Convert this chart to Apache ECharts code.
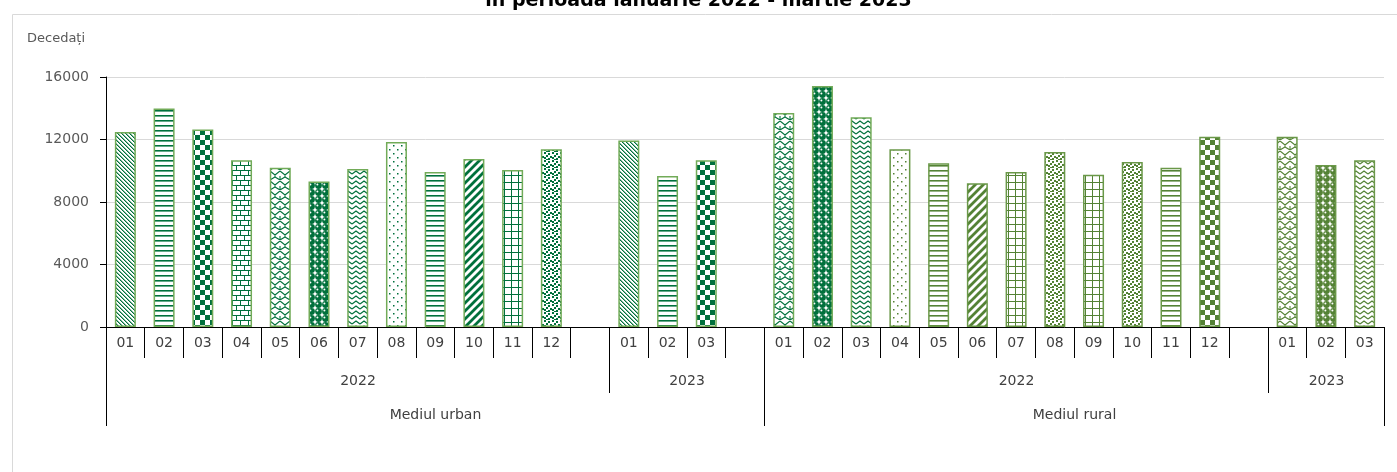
<!DOCTYPE html>
<html>
<head>
<meta charset="utf-8">
<script src="https://cdn.jsdelivr.net/npm/echarts@6/dist/echarts.min.js"></script>
<style>
html,body{margin:0;padding:0;background:#fff;}
#chart{width:1397px;height:472px;}
</style>
</head>
<body>
<div id="chart"></div>
<script>
// ---- data ----
const months = ['01','02','03','04','05','06','07','08','09','10','11','12'];
const months2023 = ['01','02','03'];
const urban2022 = [12480,13980,12640,10670,10200,9310,10110,11840,9920,10750,10050,11370];
const urban2023 = [11930,9660,10670];
const rural2022 = [13700,15420,13420,11370,10480,9200,9920,11200,9750,10560,10200,12180];
const rural2023 = [12180,10370,10670];
const yearLabels = ['2022','2023','2022','2023'];
const areaLabels = ['Mediul urban','Mediul rural'];
const yTicks = [0,4000,8000,12000,16000];

// ---- pattern styles ----
const urbanPat = ['dDiag','hLines','checker','brick','weave','sphere','zigzag','dots','hLines','wUpDiag','grid','confetti'];
const urban23Pat = ['dDiag','hLines','checker'];
const ruralPat = ['weave','sphere','zigzag','dots','hLines','wUpDiag','grid','confetti','grid','confetti','hLines','checker'];
const rural23Pat = ['weave','sphere','zigzag'];
const GREEN = '#00703C', OLIVE = '#548235';
const GREEN_B = '#72AB58', OLIVE_B = '#6A9848';

function makePattern(type, c) {
  const cv = document.createElement('canvas');
  const sizes = {dDiag:[4,4], hLines:[4,5], checker:[10,10], brick:[8,10], weave:[10,10],
    sphere:[7,7], zigzag:[8,5], dots:[8,8], wUpDiag:[8,8], grid:[7,7], confetti:[8,8]};
  const [w,h] = sizes[type];
  cv.width = w; cv.height = h;
  const g = cv.getContext('2d');
  g.fillStyle = '#fff'; g.fillRect(0,0,w,h);
  g.fillStyle = c; g.strokeStyle = c;
  switch (type) {
    case 'dDiag': for (let i=0;i<4;i++) { g.fillRect(i,i,1,1); g.globalAlpha=0.5; g.fillRect((i+1)%4,i,1,1); g.globalAlpha=1; } break;
    case 'hLines': g.fillRect(0,0,w,1); g.globalAlpha=0.6; g.fillRect(0,1,w,1); break;
    case 'checker': g.fillRect(0,0,5,5); g.fillRect(5,5,5,5); break;
    case 'brick': g.fillRect(0,0,8,1); g.fillRect(0,5,8,1); g.fillRect(0,0,1,5); g.fillRect(4,5,1,5); break;
    case 'weave':
      g.lineWidth = 1.1;
      g.beginPath(); g.moveTo(0,1); g.lineTo(5,5); g.lineTo(10,1);
      g.moveTo(5,5); g.lineTo(5,7); g.moveTo(0,6); g.lineTo(0,10); g.moveTo(10,6); g.lineTo(10,10);
      g.moveTo(5,7); g.lineTo(0,10); g.moveTo(5,7); g.lineTo(10,10);
      g.stroke(); break;
    case 'sphere':
      g.beginPath(); g.arc(3.5,3.5,3.4,0,Math.PI*2); g.fill();
      g.fillStyle='#fff'; g.beginPath(); g.arc(2.4,2.4,1,0,Math.PI*2); g.fill(); break;
    case 'zigzag':
      g.lineWidth = 1.2; g.beginPath(); g.moveTo(0,4); g.lineTo(4,1); g.lineTo(8,4); g.stroke(); break;
    case 'dots': g.fillRect(1,1,1.5,1.5); g.fillRect(5,5,1.5,1.5); break;
    case 'wUpDiag':
      g.lineWidth = 2.8; g.beginPath();
      g.moveTo(-2,10); g.lineTo(10,-2); g.moveTo(-6,6); g.lineTo(6,-6); g.moveTo(2,14); g.lineTo(14,2);
      g.stroke(); break;
    case 'grid': g.fillRect(0,0,w,1); g.fillRect(0,0,1,h); break;
    case 'confetti':
      [[0,0],[4,1],[2,3],[6,4],[0,5],[4,6],[2,7]].forEach(p=>g.fillRect(p[0],p[1],2,2)); break;
  }
  return {image: cv, repeat: 'repeat'};
}

function items(vals, pats, colorFn, borderFn) {
  return vals.map((v,i)=>({
    value: v,
    itemStyle: {color: makePattern(pats[i], colorFn(i)), borderColor: borderFn(i), borderWidth: 1.5}
  }));
}

const categories = [...months, '', ...months2023, '', ...months, '', ...months2023];
const barData = [
  ...items(urban2022, urbanPat, ()=>GREEN, ()=>GREEN_B),
  null,
  ...items(urban2023, urban23Pat, ()=>GREEN, ()=>GREEN_B),
  null,
  ...items(rural2022, ruralPat, i=> i<3?GREEN:OLIVE, i=> i<3?GREEN_B:OLIVE_B),
  null,
  ...items(rural2023, rural23Pat, ()=>OLIVE, ()=>OLIVE_B)
];

// group brackets: [startIndex, endIndex, level]
const n1 = months.length, n2 = months2023.length;
const uS = 0, uE = n1 + 1 + n2;
const rS = uE + 1, rE = rS + n1 + 1 + n2 - 1;
const groups = [
  [uS, uS + n1, 1], [uS + n1 + 1, uE, 1],
  [rS, rS + n1, 1], [rS + n1 + 1, rE, 1],
  [uS, uE, 2], [rS, rE, 2]
];
const groupText = [...yearLabels, ...areaLabels];

const FONT = 'DejaVu Sans';
const chart = echarts.init(document.getElementById('chart'));
chart.setOption({
  animation: false,
  textStyle: {fontFamily: FONT},
  title: [
    {text: 'în perioada ianuarie 2022 - martie 2023', left: 'center', top: -8, padding: 0,
     textStyle: {fontSize: 19, fontWeight: 'bold', color: '#000', fontFamily: FONT}},
    {text: 'Decedați', left: 27, top: 32, padding: 0,
     textStyle: {fontSize: 13, fontWeight: 'normal', color: '#595959', fontFamily: FONT}}
  ],
  graphic: [{type: 'rect', left: 10, top: 12, silent: true, z: -1,
    shape: {width: 1420, height: 480}, style: {fill: 'none', stroke: '#D9D9D9', lineWidth: 1}}],
  grid: {left: 106, right: 13, top: 77, bottom: 145},
  xAxis: {
    type: 'category', data: categories,
    axisLine: {lineStyle: {color: '#000', width: 1}},
    axisTick: {show: true, interval: 0, length: 31, lineStyle: {color: '#000'}},
    axisLabel: {interval: 0, color: '#404040', fontSize: 14, margin: 9, fontFamily: FONT},
    splitLine: {show: false}
  },
  yAxis: {
    type: 'value', min: yTicks[0], max: yTicks[yTicks.length-1], interval: 4000,
    axisLine: {show: true, lineStyle: {color: '#000', width: 1}},
    axisTick: {show: true, length: 6, lineStyle: {color: '#000'}},
    axisLabel: {color: '#595959', fontSize: 14, margin: 17, fontFamily: FONT, formatter: v => String(v)},
    splitLine: {lineStyle: {color: '#D9D9D9', width: 1}}
  },
  series: [
    {type: 'bar', data: barData, barWidth: 21, silent: true},
    {type: 'custom', data: groups, clip: false, silent: true, encode: {x: [0,1], y: 2},
     renderItem: function (params, api) {
       const s = api.value(0), e = api.value(1), lvl = api.value(2);
       const band = api.size([1,0])[0];
       const p0 = api.coord([s,0]), p1 = api.coord([e,0]);
       const x0 = Math.round(p0[0]-band/2)+0.5, x1 = Math.round(p1[0]+band/2)+0.5;
       const y0 = p0[1];
       const yEnd = y0 + (lvl===1 ? 66 : 99);
       const ty = y0 + (lvl===1 ? 54 : 88);
       return {type: 'group', children: [
         {type: 'line', shape: {x1: x0, y1: y0, x2: x0, y2: yEnd}, style: {stroke: '#000', lineWidth: 1}},
         {type: 'line', shape: {x1: x1, y1: y0, x2: x1, y2: yEnd}, style: {stroke: '#000', lineWidth: 1}},
         {type: 'text', x: (x0+x1)/2, y: ty, style: {text: groupText[params.dataIndex], align: 'center',
           verticalAlign: 'middle', fill: '#404040', font: '14px "DejaVu Sans"'}}
       ]};
     }}
  ]
});
</script>
</body>
</html>
